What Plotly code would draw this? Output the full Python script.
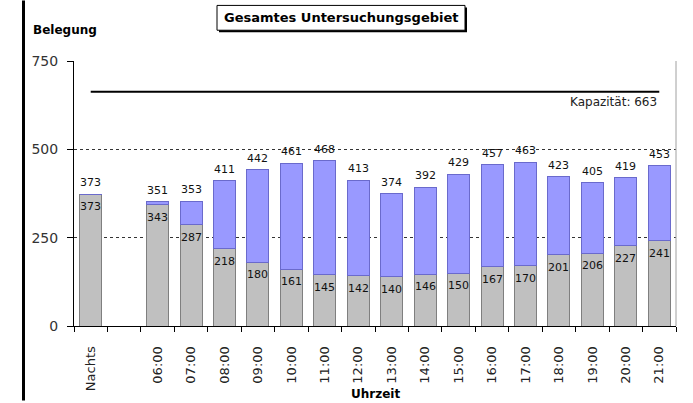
import plotly.graph_objects as go

# Belegung je Zeitscheibe (gesamtes Untersuchungsgebiet)
categories = ["Nachts", "", "06:00", "07:00", "08:00", "09:00", "10:00", "11:00",
              "12:00", "13:00", "14:00", "15:00", "16:00", "17:00", "18:00",
              "19:00", "20:00", "21:00"]
base_values = [373, None, 343, 287, 218, 180, 161, 145, 142, 140, 146, 150,
               167, 170, 201, 206, 227, 241]
total_values = [373, None, 351, 353, 411, 442, 461, 468, 413, 374, 392, 429,
                457, 463, 423, 405, 419, 453]
capacity = 663
y_ticks = [0, 250, 500, 750]

W, H = 693, 403
L, R, T, B = 74, 17, 61, 75
PW, PH = W - L - R, H - T - B


def px(x):
    return (x - L) / PW


def py(y):
    return (H - B - y) / PH


xs = list(range(len(categories)))
extra_values = [None if t is None else t - b for t, b in zip(total_values, base_values)]
FONT = "DejaVu Sans"
LABEL_FONT = dict(family=FONT, size=11, color="#111111")

fig = go.Figure()
fig.add_trace(go.Bar(
    x=xs, y=base_values,
    marker=dict(color="#C0C0C0", line=dict(color="#7f7f7f", width=1)),
    hoverinfo="skip",
))
fig.add_trace(go.Bar(
    x=xs, y=extra_values,
    marker=dict(color="#9999FF", line=dict(color="#6a6acc", width=1)),
    hoverinfo="skip",
))
# Kapazitätslinie
fig.add_trace(go.Scatter(
    x=[xs[0], xs[-1]], y=[capacity, capacity], mode="lines",
    line=dict(color="black", width=2),
    hoverinfo="skip",
))

value_labels = []
for x, b, t in zip(xs, base_values, total_values):
    if t is not None:
        # Gesamtbelegung über dem Balken
        value_labels.append(dict(
            text=str(t), xref="x", yref="y", x=x, y=t,
            xanchor="center", yanchor="bottom", yshift=3,
            showarrow=False, font=LABEL_FONT))
    if b is not None:
        # Grundbelegung unter der Oberkante des grauen Balkens
        value_labels.append(dict(
            text=str(b), xref="x", yref="y", x=x, y=b,
            xanchor="center", yanchor="top", yshift=-4,
            showarrow=False, font=LABEL_FONT))

fig.update_layout(
    width=W, height=H,
    margin=dict(l=L, r=R, t=T, b=B),
    paper_bgcolor="white", plot_bgcolor="white",
    barmode="stack", bargap=0.34,
    showlegend=False,
    font=dict(family=FONT, color="#222222"),
    xaxis=dict(
        range=[-0.5, len(categories) - 0.5],
        tickmode="array", tickvals=xs, ticktext=categories,
        tickangle=-90, ticks="", ticklabelstandoff=14,
        tickfont=dict(family=FONT, size=13, color="#222222"),
        showline=True, linecolor="black", linewidth=1,
        showgrid=False, zeroline=False,
        minor=dict(tick0=-0.5, dtick=1, ticks="outside", ticklen=5,
                   tickcolor="black", tickwidth=1, showgrid=False),
    ),
    yaxis=dict(
        range=[0, 750],
        tickmode="array", tickvals=y_ticks,
        ticks="outside", ticklen=6, tickcolor="black",
        ticklabelstandoff=6,
        tickfont=dict(family=FONT, size=14, color="#333333"),
        showline=True, linecolor="black", linewidth=1,
        showgrid=True, gridcolor="#333333", gridwidth=1, griddash="dot",
        zeroline=False,
    ),
    shapes=[
        # rechte Begrenzung der Zeichenfläche
        dict(type="line", xref="paper", yref="paper", x0=1, x1=1, y0=0, y1=1,
             line=dict(color="#a0a0a0", width=1)),
        # linker Rahmen
        dict(type="rect", xref="paper", yref="paper",
             x0=px(22), x1=px(25), y0=py(0), y1=py(H),
             fillcolor="black", line=dict(width=0)),
        # Titelbox mit Schatten
        dict(type="rect", xref="paper", yref="paper",
             x0=px(219), x1=px(467), y0=py(32), y1=py(7),
             fillcolor="black", line=dict(width=0)),
        dict(type="rect", xref="paper", yref="paper",
             x0=px(217), x1=px(465), y0=py(30), y1=py(5),
             fillcolor="white", line=dict(color="black", width=1)),
    ],
    annotations=value_labels + [
        dict(text="<b>Gesamtes Untersuchungsgebiet</b>", xref="paper", yref="paper",
             x=px(341), y=py(17.5), xanchor="center", yanchor="middle",
             showarrow=False, font=dict(family=FONT, size=13, color="black")),
        dict(text="<b>Belegung</b>", xref="paper", yref="paper",
             x=px(31), y=py(30), xanchor="left", yanchor="middle",
             showarrow=False, font=dict(family=FONT, size=12, color="black")),
        dict(text="<b>Uhrzeit</b>", xref="paper", yref="paper",
             x=0.5, y=py(396.5), xanchor="center", yanchor="middle",
             showarrow=False, font=dict(family=FONT, size=12, color="black")),
        dict(text=f"Kapazität: {capacity}", xref="x", yref="y",
             x=xs[-1], y=capacity, xanchor="right", yanchor="top", yshift=-1,
             showarrow=False, font=dict(family=FONT, size=12, color="#222222")),
    ],
)

fig.write_html("out.html")
